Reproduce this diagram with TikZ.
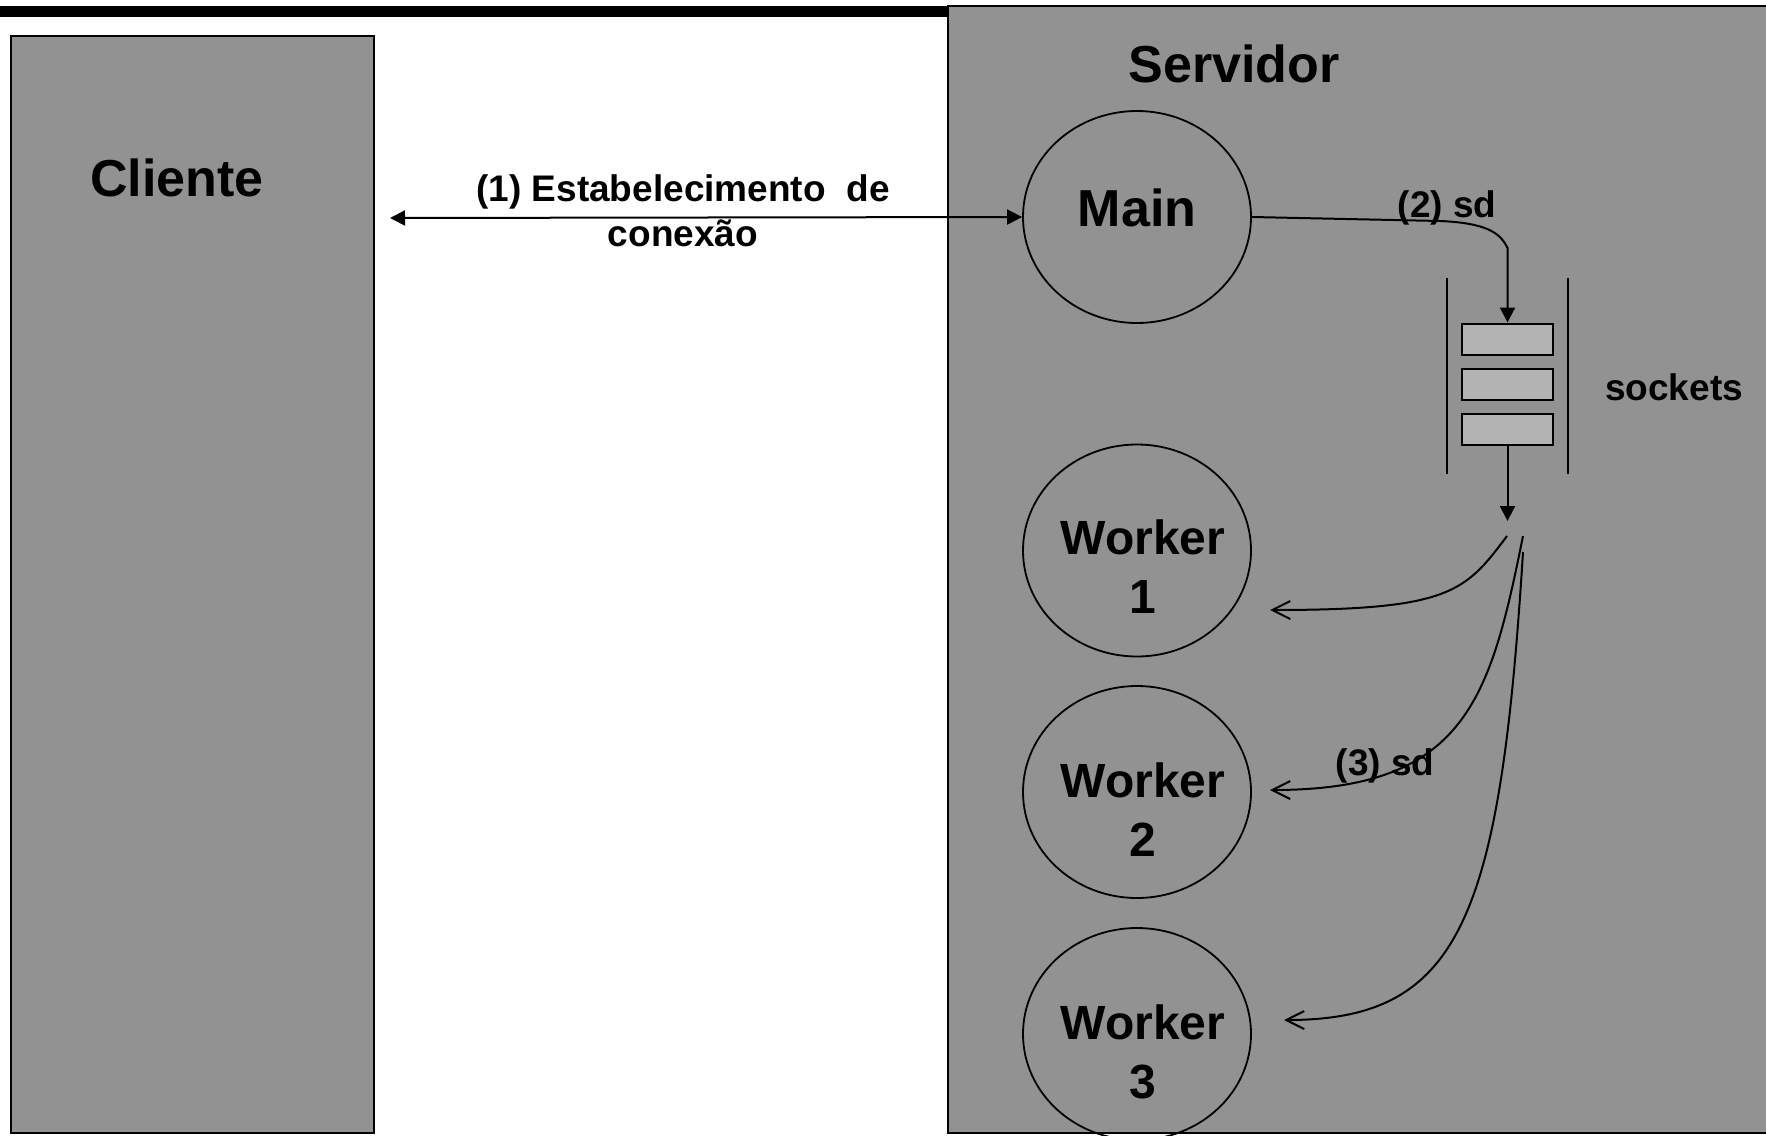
\documentclass[tikz,border=0pt]{standalone}
\usepackage{fontspec}
\setmainfont{Liberation Sans}
\usetikzlibrary{arrows.meta,shapes.geometric}
\definecolor{panelgray}{RGB}{146,146,146}
\definecolor{slotgray}{RGB}{179,179,179}
\begin{document}
\begin{tikzpicture}[x=0.5pt,y=-0.5pt,
  panel/.style={draw=black,line width=1.25pt,fill=panelgray,inner sep=0pt},
  proc/.style={ellipse,draw=black,line width=0.9pt,minimum width=114pt,minimum height=106pt,inner sep=0pt},
  slot/.style={draw=black,line width=1pt,fill=slotgray,minimum width=45.5pt,minimum height=15.5pt,inner sep=0pt},
  bigtxt/.style={font=\bfseries\fontsize{26}{29.5}\selectfont,align=center,inner sep=0pt},
  workertxt/.style={font=\bfseries\fontsize{24}{29.5}\selectfont,align=center,inner sep=0pt},
  smalltxt/.style={font=\bfseries\fontsize{18.5}{22.5}\selectfont,align=center,inner sep=0pt},
  conn/.style={line width=1pt},
  solidhead/.style={-{Triangle[length=7.5pt,width=7.5pt]}},
  barbhead/.style={-{Straight Barb[length=9pt,width=9pt]}}
]
\useasboundingbox (0,0) rectangle (1766,1135);
\clip (0,0) rectangle (1766,1135);

% heavy rule along the top edge
\fill[black] (0,6) rectangle (950,17);

% client and server panels
\node[panel,minimum width=181.5pt,minimum height=548.5pt] (cliente) at (192.5,584.5) {};
\node[panel,minimum width=412pt,minimum height=563.5pt] (servidor) at (1360,569.5) {};

\node[bigtxt] (clientetxt) at (177,178) {Cliente};
\node[bigtxt] (servidortxt) at (1234,64) {Servidor};

% server processes
\node[proc] (main) at (1137,217) {};
\node[proc] (w1) at (1137,550.5) {};
\node[proc] (w2) at (1137,792) {};
\node[proc] (w3) at (1137,1034) {};

\node[bigtxt] (maintxt) at (1137,208) {Main};
\node[workertxt] (w1txt) at (1143,567) {Worker\\1};
\node[workertxt] (w2txt) at (1143,810) {Worker\\2};
\node[workertxt] (w3txt) at (1143,1052) {Worker\\3};

% socket queue
\draw[conn] (1447,278) -- (1447,474);
\draw[conn] (1568,278) -- (1568,474);
\node[slot] (q1) at (1507.5,339) {};
\node[slot] (q2) at (1507.5,384) {};
\node[slot] (q3) at (1507.5,429) {};
\node[smalltxt] (socketstxt) at (1674,387) {sockets};

% (1) connection setup
\coordinate (cliend) at (390,218);
\draw[conn,{Triangle[length=7.5pt,width=7.5pt]}-{Triangle[length=7.5pt,width=7.5pt]}] (cliend) -- (main.west);
\node[smalltxt] (conntxt) at (683,210.5) {(1) Estabelecimento \ de\\conexão};

% (2) main pushes the descriptor into the queue
\draw[conn,solidhead] (main.east) -- (1440,221) .. controls (1485,223) and (1500,232) .. (1507.5,248) -- (q1.north);
\node[smalltxt] (sd2txt) at (1447,208) {(2) sd};

% descriptor leaves the queue
\coordinate (qout) at (1507.5,521);
\draw[conn,solidhead] (q3.south) -- (qout);

% (3) hand-off to the workers
\coordinate (s1) at (1507,536);
\coordinate (s2) at (1523,536);
\coordinate (s3) at (1523,552);
\coordinate (t1) at (1270,610);
\coordinate (t2) at (1270,790);
\coordinate (t3) at (1284,1020);
\draw[conn,barbhead] (s1) .. controls (1465,592) and (1450,610) .. (t1);
\draw[conn,barbhead] (s2) .. controls (1490,700) and (1465,790) .. (t2);
\draw[conn,barbhead] (s3) .. controls (1500,920) and (1460,1020) .. (t3);
\node[smalltxt] (sd3txt) at (1385,766) {(3) sd};
\end{tikzpicture}
\end{document}
